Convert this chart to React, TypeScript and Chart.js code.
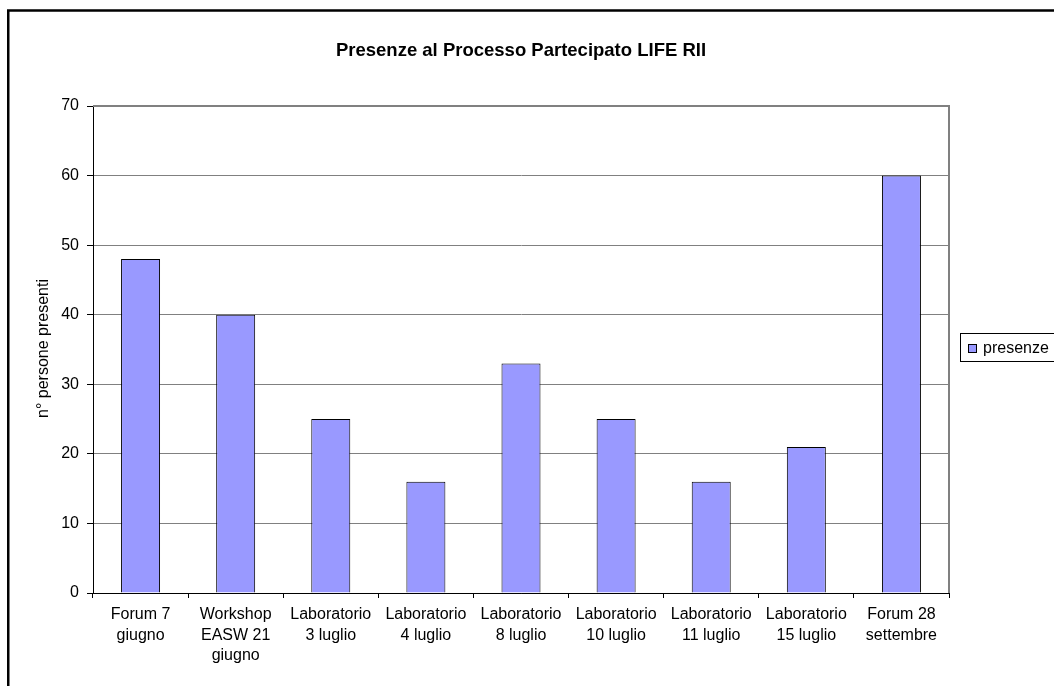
import React, { useEffect, useRef } from 'react';
import { Chart, registerables } from 'chart.js';

Chart.register(...registerables);

const categories: string[][] = [
  ['Forum 7', 'giugno'],
  ['Workshop', 'EASW 21', 'giugno'],
  ['Laboratorio', '3 luglio'],
  ['Laboratorio', '4 luglio'],
  ['Laboratorio', '8 luglio'],
  ['Laboratorio', '10 luglio'],
  ['Laboratorio', '11 luglio'],
  ['Laboratorio', '15 luglio'],
  ['Forum 28', 'settembre'],
];
const presenze = [48, 40, 25, 16, 33, 25, 16, 21, 60];
const yMin = 0;
const yMax = 70;
const yStep = 10;
const chartTitle = 'Presenze al Processo Partecipato LIFE RII';
const yAxisTitle = 'n° persone presenti';
const seriesName = 'presenze';

const FONT = '"Liberation Sans", Arial, Helvetica, sans-serif';
const BAR_COLOR = '#9999FF';
const GRID_COLOR = '#808080';

const decorPlugin = {
  id: 'decor',
  beforeDatasetsDraw(chart: any) {
    const { ctx, chartArea: a } = chart;
    ctx.save();
    ctx.strokeStyle = GRID_COLOR;
    ctx.lineWidth = 2;
    ctx.beginPath();
    ctx.moveTo(a.left, a.top);
    ctx.lineTo(a.right, a.top);
    ctx.lineTo(a.right, a.bottom);
    ctx.stroke();
    ctx.restore();
  },
  afterDraw(chart: any) {
    const { ctx, chartArea: a } = chart;
    ctx.save();
    // outer chart border
    ctx.strokeStyle = '#000';
    ctx.lineWidth = 2.5;
    ctx.strokeRect(8.25, 10.5, 1100, 700);

    // title
    ctx.fillStyle = '#000';
    ctx.font = `bold 18.5px ${FONT}`;
    ctx.textAlign = 'center';
    ctx.textBaseline = 'alphabetic';
    ctx.fillText(chartTitle, 521, 56);

    // y axis title
    ctx.save();
    ctx.translate(48, (a.top + a.bottom) / 2 - 1);
    ctx.rotate(-Math.PI / 2);
    ctx.font = `16px ${FONT}`;
    ctx.textAlign = 'center';
    ctx.textBaseline = 'alphabetic';
    ctx.fillText(yAxisTitle, 0, 0);
    ctx.restore();

    // legend
    ctx.lineWidth = 1;
    ctx.strokeStyle = '#000';
    ctx.fillStyle = '#fff';
    ctx.fillRect(960.5, 333.5, 120, 28);
    ctx.strokeRect(960.5, 333.5, 120, 28);
    ctx.fillStyle = BAR_COLOR;
    ctx.fillRect(968.5, 344.5, 8, 8);
    ctx.strokeRect(968.5, 344.5, 8, 8);
    ctx.fillStyle = '#000';
    ctx.font = `16px ${FONT}`;
    ctx.textAlign = 'left';
    ctx.textBaseline = 'middle';
    ctx.fillText(seriesName, 983, 349);
    ctx.restore();
  },
};

export default function App() {
  const ref = useRef<HTMLCanvasElement | null>(null);

  useEffect(() => {
    document.body.style.margin = '0';
    const canvas = ref.current;
    if (!canvas) return;
    const chart = new Chart(canvas, {
      type: 'bar',
      data: {
        labels: categories,
        datasets: [
          {
            label: seriesName,
            data: presenze,
            backgroundColor: BAR_COLOR,
            borderColor: '#000',
            borderWidth: 1,
            barPercentage: 0.41,
            categoryPercentage: 1,
          },
        ],
      },
      options: {
        responsive: false,
        animation: false,
        devicePixelRatio: 1,
        layout: { padding: { left: 0, top: 106, right: 105, bottom: 0 } },
        plugins: {
          legend: { display: false },
          title: { display: false },
          tooltip: { enabled: false },
        },
        scales: {
          x: {
            offset: true,
            grid: {
              display: true,
              drawOnChartArea: false,
              offset: true,
              tickLength: 5,
              color: '#000',
              tickColor: '#000',
            },
            border: { color: '#000', width: 1 },
            ticks: {
              color: '#000',
              font: { size: 16, family: FONT, lineHeight: 1.3 },
              maxRotation: 0,
              minRotation: 0,
              autoSkip: false,
              padding: 6,
            },
            afterFit: (s: any) => {
              s.height = 93;
            },
          },
          y: {
            min: yMin,
            max: yMax,
            ticks: {
              stepSize: yStep,
              color: '#000',
              font: { size: 16, family: FONT },
              padding: 8,
            },
            grid: {
              color: (c: any) => (c.tick && c.tick.value === 0 ? '#000' : GRID_COLOR),
              tickColor: '#000',
              tickLength: 6,
            },
            border: { color: '#000', width: 1 },
            afterFit: (s: any) => {
              s.width = 93;
            },
          },
        },
      },
      plugins: [decorPlugin],
    });
    return () => chart.destroy();
  }, []);

  return (
    <div style={{ position: 'absolute', left: 0, top: 0, background: '#fff' }}>
      <canvas ref={ref} width={1054} height={686} style={{ display: 'block', width: 1054, height: 686 }} />
    </div>
  );
}
